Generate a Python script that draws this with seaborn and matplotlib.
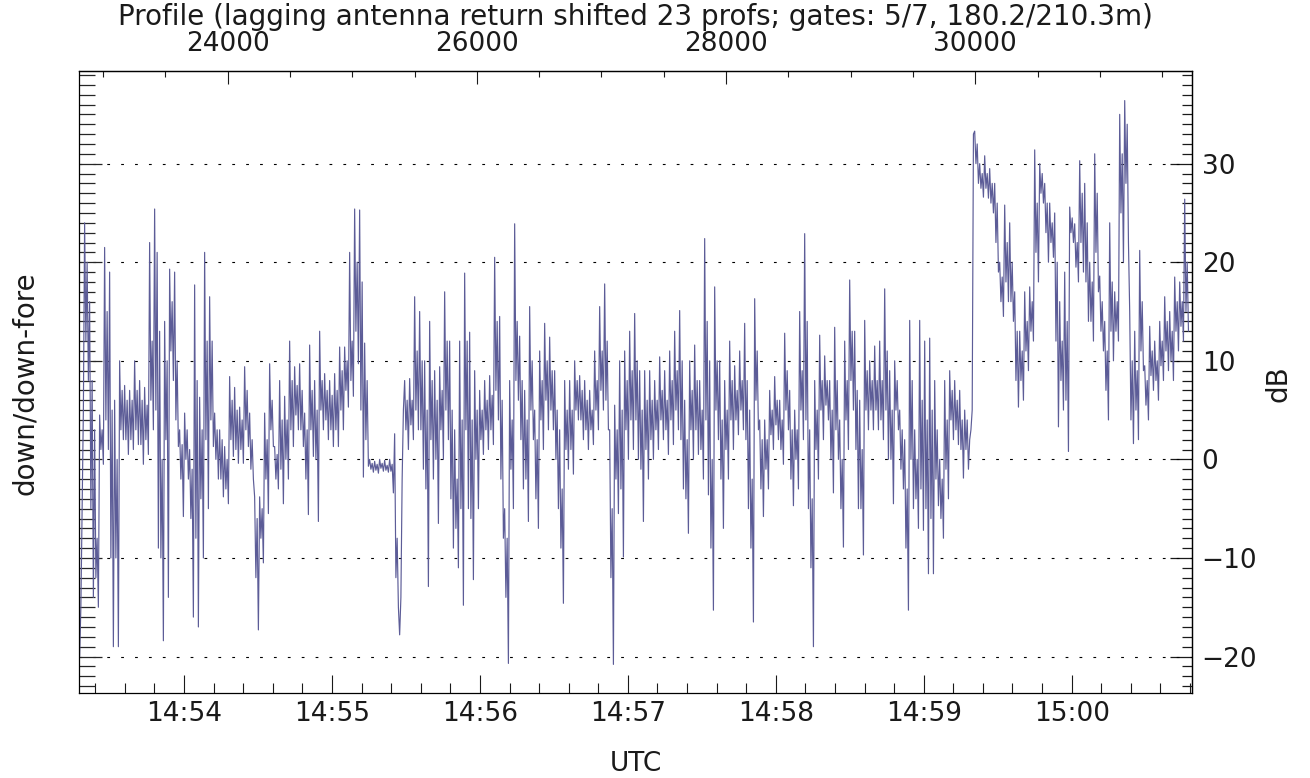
import numpy as np
import pandas as pd
import matplotlib
matplotlib.use("Agg")
import matplotlib.pyplot as plt
from matplotlib.ticker import (MultipleLocator, FixedLocator, FuncFormatter)
import seaborn as sns

# down/down-fore return ratio (dB) in ~2 s intervals from 14:53:17.4 UTC.
# For each interval: the extreme reached first, the typical low and high of
# the dense core of the trace, and the extreme reached last.
db_first = [
    -20, 24, 16, 3, 4.5, 21.5, 19, 6, 10, 7.5,
    7, 10, 8, 7.3, 22, 25.4, 13, 14, 19.3, 19,
    3, 4.7, 1, 17.7, 6.3, 21, 16.5, 4.7, 3, 1.3,
    8.4, 7.3, 5.3, 9.4, 4.7, -3.8, -3.8, 4.7, 9.7, 1.3,
    8, 6.4, 12, 9.4, 9.7, 4.7, 11.6, 8, 13, 8.7,
    8, 8.7, 11.4, 11.4, 21, 25.4, 25.3, 11.8, 0, -0.2,
    0, -0.1, 0, 2.6, -17.8, 8, 8.2, 16.5, 15, 10,
    14, 9, 9.4, 17, 12, 3, 12, 18.9, 12.9, 9,
    7, 8, 8.5, 20.5, 14.5, -5, 8, 23.9, 12.5, 7,
    15.5, 5, 11, 13.8, 12.4, 9, 3, 8, 8, 10,
    8.5, 8, 7, 11, 15.5, 17.8, 3, 5.5, 10, 11,
    13, 14.8, 9, 9, 9, 8, 10.4, 9, 11, 13,
    15.1, 6, 10, 11.6, 8, 22.4, 10, 17.5, 10, 8,
    12, 9.5, 11, 13.8, 5, 16.3, 4, 4, 7, 8.4,
    6, 12.8, 7, 5, 15, 22.9, 3, 8, 12.6, 10.5,
    8, 13.4, 4, 12, 18.2, 13, 6, 14.1, 10, 11.5,
    12, 17.3, 9, 10, 5, 2, 14.1, 3, 14.1, 12,
    12.3, 8, 0, 8, 9, 8, 7, 5, 2, 33.3,
    30, 30.8, 29.5, 28, 20, 25.8, 24, 17, 13, 17,
    17.5, 31.4, 30, 28, 26, 25, 16, 19, 25.6, 23.9,
    30.3, 28, 20, 31, 18.6, 14, 24, 17, 35, 36.4,
    15, 13, 21.2, 9.5, 13.5, 12, 14, 16.5, 15, 18.5,
    18, 26.4,
]
db_core_lo = [
    -15, 12, -5, -12, 1, 4, -10, -10, 3, 2,
    2, 3, 1.5, 2, 6, 5, -10, 2, 11, 4,
    -2, 0, -6, -8, -4, 2, 4, 0, -2, -3,
    2, 1, 1, 3, -1, -12, -8, -2, 3, -2,
    -1, 0, 3, 4.5, 3, -2, 3, 0, 5, 4,
    3, 3, 5, 7, 8, 13, 5, 2, -1, -1.1,
    -0.9, -1.1, -1.2, -12, -14, 3, 3.5, 5, 3, -3,
    2, 0, 3, 5, -4, -7, -5, 3, -6, 0,
    2, 3, 3, 7, -2, -14, -1, 8, 2, -2,
    5, -4, 4, 6, 5, 0, -9, 1, 1, 5,
    4, 3, 3, 5, 7, 6, -12, -2, -3, 3,
    4, 4, -1, 1, 2, 3, 4, 3, 4, 5,
    2, -4, 3, 3, 1, 4, -9, 5, -2, 1,
    4, 4, 5, 2, -9, 6, -3, -1, 2.5, 3.5,
    1, 5, -2, 0, 5, 4, -11, 1, 5, 5.5,
    0, 3, -5, 4, 8, 1, -5, 5, 5, 5,
    4, 5, 0, 5, -1, -9, 0, -4, -3, -5,
    -6, -2, -6, -1, 4, 3, 1, 1, 3, 30,
    27.5, 27.5, 26, 22, 16, 18, 16, 8, 8, 11,
    13, 21, 27, 23, 22, 12, 8, 6, 23, 19.5,
    22, 18, 14, 21, 13, 7, 13, 13, 25, 28,
    4, 5, 11, 5.5, 8.5, 8, 9.5, 11, 10, 13,
    13.5, 15,
]
db_core_hi = [
    -5, 20, 8, -8, 3, 15, 5, 0, 7, 6,
    6, 7, 6, 5.5, 12, 21, 0, 10, 16, 10,
    1.5, 3, -1, 8, 3, 12, 12, 3, 2, 0,
    6, 5, 4, 7, 2, -6, -5, 2, 6, 0.5,
    4, 4, 8, 7.5, 7, 3, 7, 5, 8, 7,
    6.5, 7, 9, 10, 12, 20, 18, 8, -0.4, -0.5,
    -0.4, -0.6, -0.5, -8, -2, 6, 6, 11, 10, 5,
    8, 6, 7, 12, 5, -2, 4, 12, 4, 5,
    5, 6, 6.5, 14, 6, -8, 4, 14, 8, 4,
    10, 2, 8, 10, 9, 5, -3, 5, 5, 8,
    7, 6, 5, 8, 11, 12, -5, 3, 5, 8,
    9, 10, 5, 6, 6, 6, 7, 6, 8, 9,
    10, 2, 7, 8, 5, 14, 0, 10, 4, 5,
    8, 7, 8, 8, -2, 11, 2, 2, 5, 6,
    4, 9, 3, 3, 9, 14, -4, 5, 8, 8,
    5, 8, 0, 8, 13, 7, 1, 9, 8, 8,
    8, 11, 5, 8, 3, -3, 8, 0, 6, 4,
    5, 3, -2, 4, 7, 6, 4, 4, 5, 32,
    29, 29, 28, 26, 18.5, 22, 20, 13, 11, 14,
    16, 26, 29, 26, 24, 20, 12, 14, 24.5, 22,
    27, 24, 18, 27, 16, 11, 18, 16, 31, 34,
    10, 9, 16, 8, 11, 10, 12, 14, 13, 16,
    16, 20,
]
db_last = [
    5, 8, -14, -15, -0.5, 1, -19, -19, 2, 0.5,
    1, 1.5, -0.5, 0.5, 3, -9, -18.4, -14, 8, 1.3,
    -5.8, -2, -16, -17, -10, -5, 1.3, -2, -3.8, -4.5,
    0.3, -0.4, -0.4, 1.3, -2, -17.3, -10.5, -5.5, 1.3, -3,
    -4.5, -2, 1.3, 3, 1.3, -5.6, 0.3, -6.3, 3, 2,
    1.3, 1.3, 3, 5.3, 6.4, 9.7, -1.8, -0.7, -1.3, -1.4,
    -1.2, -1.3, -3.4, -15, 5, 1, 2, 3, -1, -12.9,
    -2, -6.5, 0, 2, -9, -11, -14.8, -5, -12.2, -5,
    0.5, 1, 1.5, 4, -8, -20.7, -5, 6, -3, -6.3,
    2, -7, 1, 3, 3, -5, -14.6, -1, -1.5, 4,
    2, 1, 1.5, 3, 5, 3, -20.8, -5.5, -9.9, 0,
    1, 0, -6.3, -2, 0, 1, 2, 0.5, 1.5, 3,
    -3, -7.5, 0, 0.5, -2, -3.6, -15.3, 2, -7, -2,
    1, 2.5, 3, -5, -16.5, 3, -5.8, -3, 1, 2,
    -0.5, 3, -4.7, -3, 2, -5, -19, -2, 2, 4,
    -3.4, 0, -8.9, 1, 5, -5, -9.7, 3, 3, 3,
    2, 0, -4.5, 3, -3, -15.3, -5, -7, -7.2, -11.6,
    -11.6, -4.7, -8, -4, 2, 1.5, -1.9, -1, 33, 28,
    26.6, 26.5, 25, 19, 14.5, 16, 14, 5.3, 6, 9,
    12, 18, 26, 20, 20.5, 3.3, 5, 0.8, 22, 18,
    19, 14, 12, 17, 11, 4, 10, 12, 20, 22,
    1.6, 2, 9, 4, 7, 6, 8, 9, 8, 11,
    12, 13,
]

start_sec = 17.4          # first interval start, seconds after 14:53:00 UTC
interval_sec = 2.028      # length of one interval
x_range = (17.4, 468.8)   # plotted time window, seconds after 14:53:00
y_range = (-23.7, 39.4)

time_ticks = [60, 120, 180, 240, 300, 360, 420]
profile_ticks = [24000, 26000, 28000, 30000]
profile_ref = 24000       # profile number recorded at profile_ref_sec
profile_ref_sec = 77.7
profiles_per_sec = 19.79

title = "Profile (lagging antenna return shifted 23 profs; gates: 5/7, 180.2/210.3m)"

# one interval -> four samples in time order
samples = np.column_stack([db_first, db_core_lo, db_core_hi, db_last]).ravel()
step = interval_sec / 4
sec = start_sec + step * (np.arange(len(samples)) + 0.5)
df = pd.DataFrame({"sec": sec, "db": samples})

sns.set_theme(style="ticks")
plt.rcParams["font.family"] = ["DejaVu Sans"]
text_color = "#1a1a1a"

W, H = 1310, 778
fig = plt.figure(figsize=(W / 100, H / 100), dpi=100)
L, R, T, B = 79, 1192, 71, 693
ax = fig.add_axes([L / W, 1 - B / H, (R - L) / W, (B - T) / H])

sns.lineplot(data=df, x="sec", y="db", ax=ax, color="#5c5c97", linewidth=0.85,
             sort=False, estimator=None)

ax.set_xlim(*x_range)
ax.set_ylim(*y_range)
ax.set_xlabel("")
ax.set_ylabel("")

for sp in ax.spines.values():
    sp.set_visible(True)
    sp.set_linewidth(0.9)
    sp.set_color("black")

# dotted reference lines every 10 dB
ax.yaxis.set_major_locator(MultipleLocator(10))
ax.yaxis.set_minor_locator(MultipleLocator(1))
ax.grid(axis="y", which="major", color="black", linewidth=0.8,
        linestyle=(0, (2.5, 10)))
ax.grid(axis="x", visible=False)
ax.set_axisbelow(True)


def hhmm(v, pos=None):
    total = int(round(14 * 3600 + 53 * 60 + v))
    return f"{total // 3600:02d}:{(total % 3600) // 60:02d}"


ax.xaxis.set_major_locator(FixedLocator(time_ticks))
ax.xaxis.set_minor_locator(MultipleLocator(12))
ax.xaxis.set_major_formatter(FuncFormatter(hhmm))
ax.tick_params(axis="x", which="both", direction="in", bottom=True, top=False,
               labelbottom=True, labeltop=False, colors=text_color,
               labelsize=19, pad=6)
ax.tick_params(axis="x", which="major", length=13, width=0.8)
ax.tick_params(axis="x", which="minor", length=7, width=0.8)
ax.tick_params(axis="y", which="both", direction="in", left=True, right=False,
               labelleft=False, labelright=False)
ax.tick_params(axis="y", which="major", length=16.5, width=0.9)
ax.tick_params(axis="y", which="minor", length=11.5, width=0.9)


def sec_to_prof(s):
    return profile_ref + (np.asarray(s) - profile_ref_sec) * profiles_per_sec


def prof_to_sec(p):
    return profile_ref_sec + (np.asarray(p) - profile_ref) / profiles_per_sec


top = ax.secondary_xaxis("top", functions=(sec_to_prof, prof_to_sec))
top.xaxis.set_major_locator(FixedLocator(profile_ticks))
top.xaxis.set_minor_locator(FixedLocator(np.arange(23000, 31501, 500)))
top.xaxis.set_major_formatter(FuncFormatter(lambda v, p: f"{int(round(v))}"))
top.tick_params(axis="x", which="both", direction="in", colors=text_color,
                labelsize=19, pad=10)
top.tick_params(axis="x", which="major", length=9.5, width=0.8)
top.tick_params(axis="x", which="minor", length=4.5, width=0.8)
top.spines["top"].set_linewidth(0.9)

right = ax.secondary_yaxis("right", functions=(lambda y: y, lambda y: y))
right.yaxis.set_major_locator(FixedLocator([-20, -10, 0, 10, 20, 30]))
right.yaxis.set_minor_locator(MultipleLocator(1))
right.tick_params(axis="y", which="both", direction="in", colors=text_color,
                  labelsize=19, pad=7)
right.tick_params(axis="y", which="major", length=16, width=0.9)
right.tick_params(axis="y", which="minor", length=7.5, width=0.9)
right.spines["right"].set_linewidth(0.9)

fig.text(635.5 / W, 1 - 25 / H, title, ha="center", va="baseline",
         fontsize=20, color=text_color)
fig.text(635.5 / W, 1 - 771 / H, "UTC", ha="center", va="baseline",
         fontsize=19, color=text_color)
fig.text(25 / W, 1 - 383 / H, "down/down-fore", rotation=90, ha="center",
         va="center", fontsize=20, color=text_color)
fig.text(1278 / W, 1 - 384 / H, "dB", rotation=90, ha="center", va="center",
         fontsize=20, color=text_color)

fig.savefig("out.png", dpi=100)
